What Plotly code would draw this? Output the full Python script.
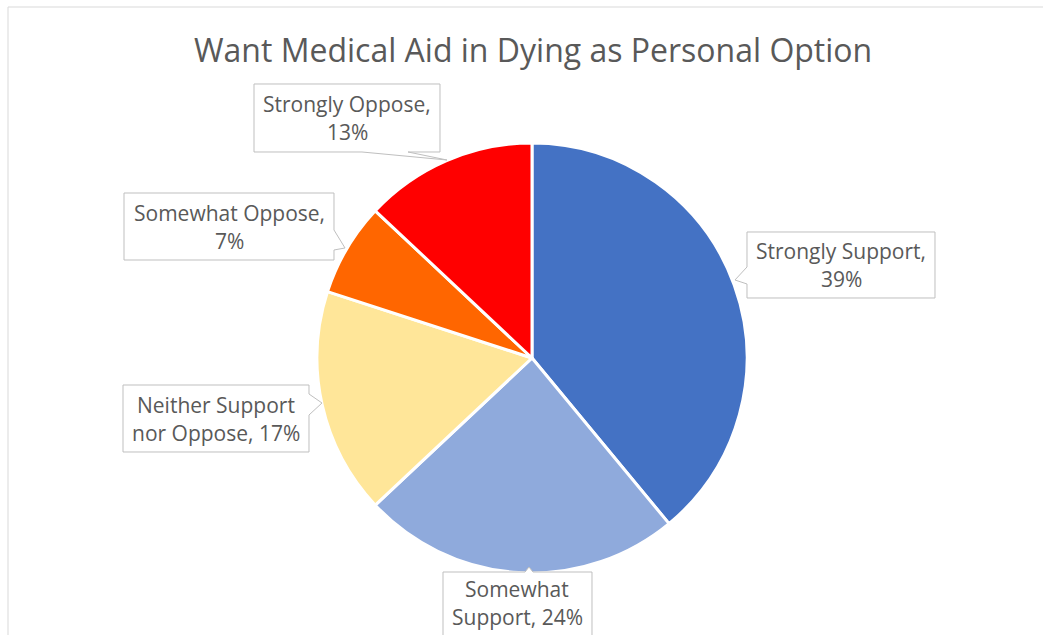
import plotly.graph_objects as go

# ---- data ----
categories = ["Strongly Support", "Somewhat Support", "Neither Support nor Oppose",
              "Somewhat Oppose", "Strongly Oppose"]
values = [39, 24, 17, 7, 13]
colors = ["#4472C4", "#8FAADC", "#FFE699", "#FF6600", "#FF0000"]
title_text = "Want Medical Aid in Dying as Personal Option"
label_lines = [
    ["Strongly Support,", "39%"],
    ["Somewhat", "Support, 24%"],
    ["Neither Support", "nor Oppose, 17%"],
    ["Somewhat Oppose,", "7%"],
    ["Strongly Oppose,", "13%"],
]

W, H = 1043, 635


def px(x, y):
    return x / W, 1 - y / H


def path_from(points):
    pts = [px(x, y) for x, y in points]
    return "M " + " L ".join(f"{a:.5f},{b:.5f}" for a, b in pts) + " Z"


# callout geometry (pixels): box + pointer wedge outline, text centre
callouts = [
    # Strongly Support
    dict(poly=[(747, 232), (935, 232), (935, 298), (747, 298), (747, 284), (735, 280), (747, 267)],
         center=(841, 265)),
    # Somewhat Support
    dict(poly=[(443, 572), (525, 572), (529, 567), (533, 572), (592, 572), (592, 660), (443, 660)],
         center=(517, 603)),
    # Neither
    dict(poly=[(123, 385), (309, 385), (309, 394), (322, 403), (309, 415), (309, 452), (123, 452)],
         center=(216, 419)),
    # Somewhat Oppose
    dict(poly=[(124, 193), (334, 193), (334, 230), (345, 248), (334, 250), (334, 260), (124, 260)],
         center=(229, 227)),
    # Strongly Oppose
    dict(poly=[(254, 84), (440, 84), (440, 152), (408, 152), (447, 160), (362, 152), (254, 152)],
         center=(347, 118)),
]

cx, cy, r = 532, 358, 215
fig = go.Figure(go.Pie(
    labels=categories,
    values=values,
    marker=dict(colors=colors, line=dict(color="white", width=3)),
    sort=False,
    direction="clockwise",
    rotation=0,
    textinfo="none",
    hoverinfo="label+percent",
    showlegend=False,
    domain=dict(x=[(cx - r) / W, (cx + r) / W], y=[1 - (cy + r) / H, 1 - (cy - r) / H]),
))

shapes = [dict(type="rect", xref="paper", yref="paper",
               x0=8 / W, y0=1 - 700 / H, x1=1100 / W, y1=1 - 7 / H,
               line=dict(color="#D9D9D9", width=1), fillcolor="rgba(0,0,0,0)", layer="below")]
annotations = []
font = dict(family="Open Sans", size=21, color="#595959")
for c, lines in zip(callouts, label_lines):
    shapes.append(dict(type="path", xref="paper", yref="paper", path=path_from(c["poly"]),
                       line=dict(color="#BFBFBF", width=1), fillcolor="white", layer="above"))
    x, y = c["center"]
    for i, t in enumerate(lines):
        ax, ay = px(x, y - 14 + 28 * i)
        annotations.append(dict(text=t, x=ax, y=ay, xref="paper", yref="paper",
                                xanchor="center", yanchor="middle", showarrow=False, font=font))

tx, ty = px(533, 50)
annotations.append(dict(text=title_text, x=tx, y=ty, xref="paper", yref="paper",
                        xanchor="center", yanchor="middle", showarrow=False,
                        font=dict(family="Open Sans", size=32, color="#595959")))

fig.update_layout(width=W, height=H, margin=dict(l=0, r=0, t=0, b=0),
                  paper_bgcolor="white", plot_bgcolor="white",
                  shapes=shapes, annotations=annotations)
fig.write_html("out.html", config={"displayModeBar": False},
               post_script="document.body.style.margin='0';document.body.style.overflow='hidden';")
